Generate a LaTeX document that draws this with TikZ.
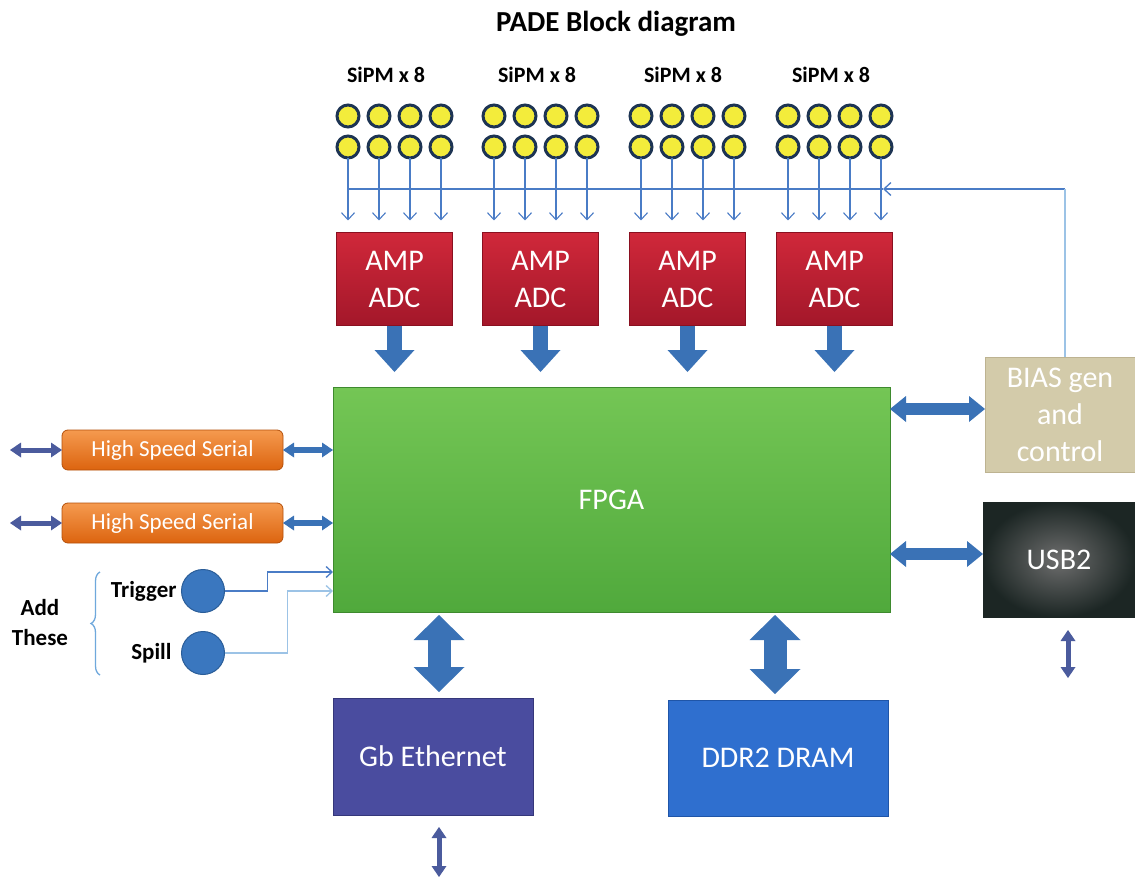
\documentclass[tikz,border=0pt]{standalone}
\usepackage{fontspec}
\setmainfont{Carlito}
\usetikzlibrary{arrows.meta,decorations.pathreplacing,calc}
\definecolor{ampT}{HTML}{D0283A}
\definecolor{ampB}{HTML}{A3172A}
\definecolor{ampD}{HTML}{8A1020}
\definecolor{fpgaT}{HTML}{74C655}
\definecolor{fpgaB}{HTML}{50A93C}
\definecolor{fpgaD}{HTML}{3E8A2E}
\definecolor{biasC}{HTML}{D3CBAA}
\definecolor{biasD}{HTML}{BDB391}
\definecolor{usbO}{HTML}{1C2624}
\definecolor{usbI}{HTML}{6E6E6E}
\definecolor{ethC}{HTML}{4A4C9F}
\definecolor{ethD}{HTML}{35377A}
\definecolor{ddrC}{HTML}{2F6FCF}
\definecolor{ddrD}{HTML}{1F55A8}
\definecolor{hssT}{HTML}{F59A4F}
\definecolor{hssB}{HTML}{DC640F}
\definecolor{hssD}{HTML}{B5500A}
\definecolor{arrowC}{HTML}{3A72B6}
\definecolor{thinC}{HTML}{4B5B9D}
\definecolor{sigC}{HTML}{4A7CC6}
\definecolor{lightC}{HTML}{9CC3E6}
\definecolor{sipmF}{HTML}{F3EC3B}
\definecolor{sipmL}{HTML}{1D3453}
\definecolor{btnC}{HTML}{3A77BF}
\definecolor{btnD}{HTML}{2A5D98}
\definecolor{braceC}{HTML}{6FA8DC}
\begin{document}
\begin{tikzpicture}[x=1pt,y=-1pt,
  every node/.style={inner sep=0pt, outer sep=0pt},
  blk/.style={text=white, align=center, font=\fontsize{30}{37}\selectfont},
  ampbox/.style={blk, minimum width=116pt, minimum height=93pt, top color=ampT, bottom color=ampB, draw=ampD, line width=0.8pt},
  fpgabox/.style={blk, minimum width=557pt, minimum height=225pt, top color=fpgaT, bottom color=fpgaB, draw=fpgaD, line width=0.8pt},
  biasbox/.style={blk, minimum width=150pt, minimum height=115pt, fill=biasC, draw=biasD, line width=0.8pt},
  usbbox/.style={blk, minimum width=152pt, minimum height=115pt, inner color=usbI, outer color=usbO, draw=usbO, line width=0.8pt},
  ethbox/.style={blk, minimum width=200pt, minimum height=117pt, fill=ethC, draw=ethD, line width=0.8pt},
  ddrbox/.style={blk, minimum width=220pt, minimum height=116pt, fill=ddrC, draw=ddrD, line width=0.8pt},
  hssbox/.style={text=white, font=\fontsize{23}{28}\selectfont, minimum width=221pt, minimum height=40pt, rounded corners=6pt, top color=hssT, bottom color=hssB, draw=hssD, line width=0.8pt},
  sipm/.style={circle, minimum size=22pt, fill=sipmF, draw=sipmL, line width=3pt},
  btn/.style={circle, minimum size=43pt, fill=btnC, draw=btnD, line width=1pt},
  boldlbl/.style={font=\fontsize{23}{30}\selectfont\bfseries, align=center},
  sipmlbl/.style={font=\fontsize{22}{26}\selectfont\bfseries},
  titlelbl/.style={font=\fontsize{29}{34}\selectfont\bfseries},
  sarrow/.style={draw=sigC, line width=1.1pt, -{Straight Barb[length=7pt,width=13pt]}},
  bus/.style={draw=sigC, line width=1.3pt},
  lightline/.style={draw=lightC, line width=1.3pt},
  bigarrow/.style={draw=arrowC, line width=15pt, -{Triangle[width=40pt,length=22pt,line width=0pt]}},
  bigdouble/.style={draw=arrowC, line width=23pt, {Triangle[width=51pt,length=25pt,line width=0pt]}-{Triangle[width=51pt,length=25pt,line width=0pt]}},
  hdouble/.style={draw=arrowC, line width=12pt, {Triangle[width=26pt,length=16pt,line width=0pt]}-{Triangle[width=26pt,length=16pt,line width=0pt]}},
  smalldouble/.style={draw=arrowC, line width=6pt, {Triangle[width=15pt,length=11pt,line width=0pt]}-{Triangle[width=15pt,length=11pt,line width=0pt]}},
  thindouble/.style={draw=thinC, line width=5pt, {Triangle[width=15pt,length=11pt,line width=0pt]}-{Triangle[width=15pt,length=11pt,line width=0pt]}},
  sigline/.style={draw=sigC, line width=1.3pt, -{Straight Barb[length=6pt,width=11pt]}},
  spilline/.style={draw=lightC, line width=1.3pt, -{Straight Barb[length=6pt,width=11pt]}}
]
\useasboundingbox[fill=white] (0,0) rectangle (1135,877);

% title
\node[titlelbl] (title) at (616,24) {PADE Block diagram};

% SiPM labels
\foreach \g/\lx in {1/386,2/537,3/683,4/831}
  \node[sipmlbl] (lab\g) at (\lx,75) {SiPM x 8};

% SiPM circles
\foreach \g/\bx in {1/348,2/494,3/641,4/788}{
  \foreach \i in {1,...,4}{
    \node[sipm] (sa\g\i) at ({\bx+31*(\i-1)},116) {};
    \node[sipm] (sb\g\i) at ({\bx+31*(\i-1)},147) {};
  }
}

% AMP/ADC boxes
\foreach \g/\cx in {1/394.5,2/540.5,3/687.5,4/834.5}
  \node[ampbox] (amp\g) at (\cx,279) {AMP\\ADC};

% main blocks
\node[fpgabox] (fpga) at (611.5,499.5) {FPGA};
\node[biasbox] (bias) at (1060,414.5) {BIAS gen\\and\\control};
\node[usbbox] (usb) at (1059,559.5) {USB2};
\node[ethbox] (eth) at (433,756.5) {Gb Ethernet};
\node[ddrbox] (ddr) at (778,758) {DDR2 DRAM};
\node[hssbox] (hss1) at (172.5,450) {High Speed Serial};
\node[hssbox] (hss2) at (172.5,523) {High Speed Serial};

% trigger / spill
\node[btn] (trig) at (203,591) {};
\node[btn] (spill) at (203,653) {};
\node[boldlbl, anchor=east] (trigl) at ([xshift=-5pt]trig.west) {Trigger};
\node[boldlbl, anchor=east] (spilll) at ([xshift=-10pt]spill.west) {Spill};
\node[boldlbl] (addl) at (40,623) {Add\\These};

% brace
\coordinate (brB) at (100,675);
\coordinate (brT) at (100,572);
\draw[draw=braceC, line width=1.3pt, decorate, decoration={brace, amplitude=9pt}] (brB) -- (brT);

% SiPM arrows to AMP
\foreach \g in {1,...,4}{
  \foreach \i in {1,...,4}{
    \draw[sarrow, shorten >=12pt] (sb\g\i.south) -- (sb\g\i.south |- amp\g.north);
  }
}

% bias bus
\coordinate (busL) at (348,189);
\coordinate (busR) at (883,189);
\coordinate (busC) at (1065,189);
\draw[bus] (busL) -- (busR);
\draw[bus, -{Straight Barb[length=7pt,width=13pt]}] (busC) -- (busR);
\draw[lightline] ([xshift=5pt]bias.north) -- (busC);

% AMP -> FPGA
\foreach \g in {1,...,4}
  \draw[bigarrow, shorten >=15pt] (amp\g.south) -- (amp\g.south |- fpga.north);

% FPGA <-> right blocks
\draw[hdouble] ([yshift=5.5pt]fpga.east |- bias.west) -- ([yshift=5.5pt]bias.west);
\draw[hdouble] ([yshift=5.5pt]fpga.east |- usb.west) -- ([yshift=5.5pt]usb.west);

% FPGA <-> bottom blocks
\draw[bigdouble, shorten <=3pt, shorten >=6pt] ([xshift=6pt]eth.north |- fpga.south) -- ([xshift=6pt]eth.north);
\draw[bigdouble, shorten <=3pt, shorten >=6pt] ([xshift=-3pt]ddr.north |- fpga.south) -- ([xshift=-3pt]ddr.north);

% HSS arrows
\coordinate (hss1out) at (10,450);
\coordinate (hss2out) at (10,523);
\draw[thindouble] (hss1out) -- (hss1.west);
\draw[thindouble] (hss2out) -- (hss2.west);
\draw[smalldouble] (hss1.east) -- (hss1.east -| fpga.west);
\draw[smalldouble] (hss2.east) -- (hss2.east -| fpga.west);

% external thin arrows
\coordinate (usbout) at (1068,678);
\coordinate (ethout) at (439,877);
\draw[thindouble, shorten <=13pt] ([xshift=9pt]usb.south) -- (usbout);
\draw[thindouble, shorten <=12pt] ([xshift=6pt]eth.south) -- (ethout);

% trigger / spill lines
\draw[sigline] (trig.east) -- ++(43,0) |- ([yshift=-72.5pt]fpga.west);
\draw[spilline] (spill.east) -- ++(63,0) |- ([yshift=-91.5pt]fpga.west);
\end{tikzpicture}
\end{document}
